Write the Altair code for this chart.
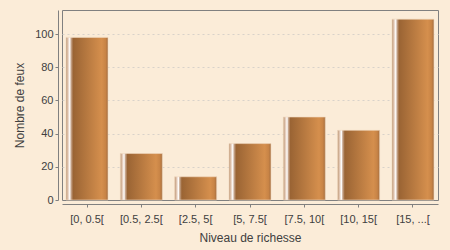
import altair as alt
import pandas as pd

categories = ["[0, 0.5[", "[0.5, 2.5[", "[2.5, 5[", "[5, 7.5[", "[7.5, 10[", "[10, 15[", "[15, ...["]
counts = [98, 28, 14, 34, 50, 42, 109]
y_ticks = [0, 20, 40, 60, 80, 100]

df = pd.DataFrame({"cat": categories, "n": counts})

grad = alt.LinearGradient(
    gradient="linear",
    x1=0, x2=1, y1=0, y2=0,
    stops=[
        alt.GradientStop(offset=0.0, color="#B8906C"),
        alt.GradientStop(offset=0.05, color="#E6CDBB"),
        alt.GradientStop(offset=0.09, color="#FFFFFF"),
        alt.GradientStop(offset=0.12, color="#C8A890"),
        alt.GradientStop(offset=0.17, color="#9A6434"),
        alt.GradientStop(offset=0.85, color="#D58F4D"),
        alt.GradientStop(offset=0.94, color="#C88446"),
        alt.GradientStop(offset=1.0, color="#A56E40"),
    ],
)

font = "Liberation Sans"
axis_color = "#808080"
text_color = "#404040"

chart = (
    alt.Chart(df)
    .mark_bar(color=grad, stroke="#F0D8C0", strokeWidth=0.6)
    .encode(
        x=alt.X(
            "cat:N",
            sort=categories,
            title="Niveau de richesse",
            scale=alt.Scale(paddingInner=0.227, paddingOuter=0.074),
            axis=alt.Axis(
                labelAngle=0,
                offset=4,
                domainColor=axis_color,
                tickColor=axis_color,
                tickSize=3,
                labelPadding=6,
                labelFont=font,
                labelFontSize=11,
                labelColor=text_color,
                titleFont=font,
                titleFontSize=12,
                titleFontWeight="normal",
                titleColor=text_color,
                titlePadding=8,
                grid=False,
            ),
        ),
        y=alt.Y(
            "n:Q",
            title="Nombre de feux",
            scale=alt.Scale(domain=[0, 114.5], nice=False),
            axis=alt.Axis(
                values=y_ticks,
                offset=4,
                domainColor=axis_color,
                tickColor=axis_color,
                tickSize=3,
                labelPadding=2,
                labelFont=font,
                labelFontSize=11,
                labelColor=text_color,
                titleFont=font,
                titleFontSize=12,
                titleFontWeight="normal",
                titleColor=text_color,
                titlePadding=8,
                grid=True,
                gridColor="#D8D2CA",
                gridDash=[2, 3],
                gridWidth=1,
                gridOpacity={"condition": {"test": "datum.value == 0", "value": 0}, "value": 1},
            ),
        ),
    )
    .properties(
        width=376,
        height=190,
        background="#FBECD8",
        padding={"left": 62, "top": 10, "right": 12, "bottom": 50},
        autosize=alt.AutoSizeParams(type="none"),
    )
    .configure_view(stroke=axis_color, strokeWidth=1, fill="#FBECD8")
)

chart.save("out.html", embed_options={"renderer": "svg", "actions": False})
